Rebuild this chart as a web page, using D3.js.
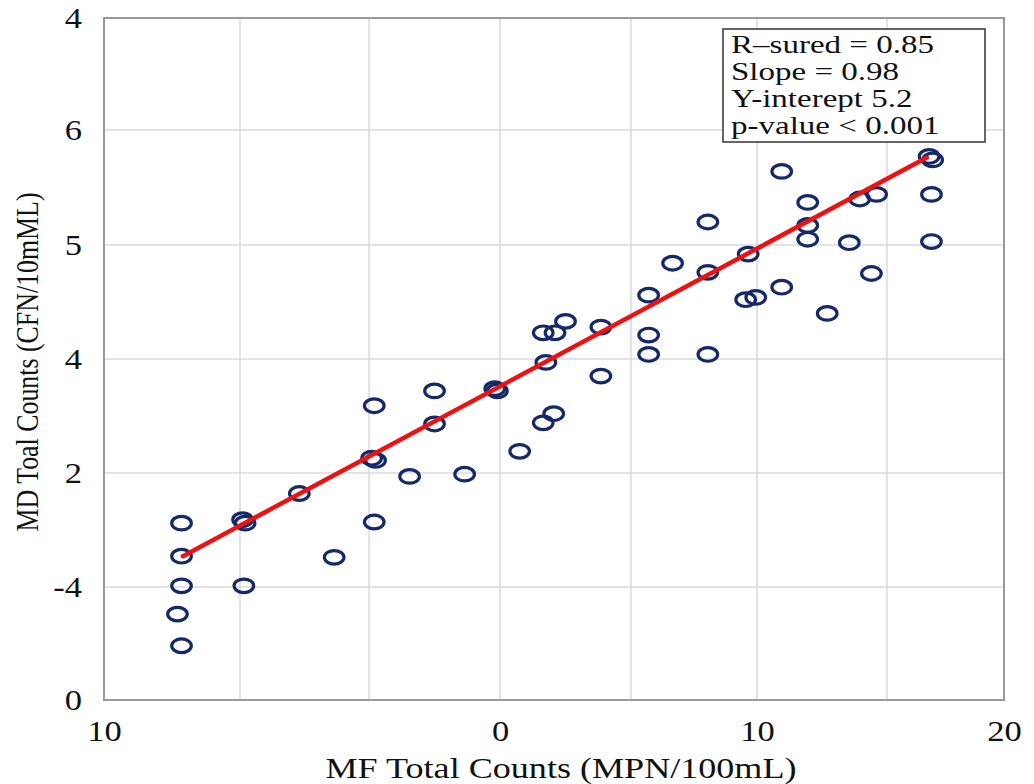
<!DOCTYPE html>
<html>
<head>
<meta charset="utf-8">
<script src="https://cdn.jsdelivr.net/npm/d3@7"></script>
<style>
  body { margin: 0; background: #fff; }
  text { font-family: "Liberation Serif", "Times New Roman", serif; fill: #111; }
</style>
</head>
<body>
<div id="chart"></div>
<script>
// grid positions (the source figure's axis labels are kept as printed)
const xGrid = [0, 1, 2, 3, 4, 5, 6, 7]
const yGrid = [0, 1, 2, 3, 4, 5, 6]
const xTickValues = [0, 3, 5, 7]
const xTickLabels = ["10", "0", "10", "20"]
const yTickLabels = ["0", "-4", "2", "4", "5", "6", "4"]

// points in grid units
const mfCounts = [0.57, 0.57, 0.57, 0.54, 0.57, 1.02, 1.04, 1.03, 1.46, 1.73,
  2.02, 2.05, 2.04, 2.04, 2.31, 2.50, 2.50, 2.73, 2.96, 2.98,
  3.15, 3.33, 3.41, 3.35, 3.33, 3.42, 3.50, 3.77, 3.77, 4.14,
  4.14, 4.14, 4.33, 4.61, 4.61, 4.61, 4.93, 4.91, 4.99, 5.19,
  5.19, 5.39, 5.39, 5.39, 5.54, 5.71, 5.79, 5.88, 5.92, 6.36,
  6.39, 6.38, 6.38]
const mdCounts = [1.56, 1.27, 1.01, 0.76, 0.48, 1.59, 1.56, 1.01, 1.82, 1.26,
  2.13, 2.11, 2.59, 1.57, 1.97, 2.72, 2.43, 1.99, 2.74, 2.72,
  2.19, 2.44, 2.52, 2.97, 3.23, 3.23, 3.33, 3.28, 2.85, 3.56,
  3.21, 3.04, 3.84, 4.20, 3.76, 3.04, 3.92, 3.52, 3.54, 4.64,
  3.63, 4.37, 4.17, 4.05, 3.40, 4.02, 4.40, 3.75, 4.44, 4.77,
  4.74, 4.44, 4.03]

// fitted line end points
const fitX = [0.58, 6.34]
const fitY = [1.27, 4.76]

const stats = ["R\u2013sured = 0.85", "Slope = 0.98", "Y-interept 5.2", "p-value < 0.001"]

const width = 1034
const height = 784

// the original figure is stretched sideways, so the text is too
function stretch(sel, k) {
  sel.each(function () {
    const w = this.getComputedTextLength()
    d3.select(this)
      .attr("textLength", w * k)
      .attr("lengthAdjust", "spacingAndGlyphs")
  })
}

const svg = d3.select("#chart").append("svg")
  .attr("width", width)
  .attr("height", height)

const x = d3.scaleLinear()
  .domain(xGrid)
  .range([104, 240, 369, 500, 631, 757, 887, 1004])
const y = d3.scaleLinear()
  .domain(yGrid)
  .range([700, 587, 473, 359, 245, 130, 18])

// gridlines
svg.append("g")
  .selectAll("line")
  .data(xGrid)
  .enter()
  .append("line")
  .attr("x1", d => x(d)).attr("x2", d => x(d))
  .attr("y1", y(0)).attr("y2", y(6))
  .attr("stroke", "#dadada")
  .attr("stroke-width", 1.5)
svg.append("g")
  .selectAll("line")
  .data(yGrid)
  .enter()
  .append("line")
  .attr("x1", x(0)).attr("x2", x(7))
  .attr("y1", d => y(d)).attr("y2", d => y(d))
  .attr("stroke", "#dadada")
  .attr("stroke-width", 1.5)

// plot frame
svg.append("rect")
  .attr("x", x(0)).attr("y", y(6))
  .attr("width", x(7) - x(0))
  .attr("height", y(0) - y(6))
  .attr("fill", "none")
  .attr("stroke", "#9a9a9a")
  .attr("stroke-width", 2)

// axes
const xAxis = svg.append("g")
  .attr("transform", "translate(0," + y(0) + ")")
  .call(d3.axisBottom(x)
    .tickValues(xTickValues)
    .tickFormat((d, i) => xTickLabels[i])
    .tickSize(0)
    .tickPadding(41))
xAxis.select(".domain").remove()
xAxis.selectAll("text")
  .attr("dy", 0)
  .style("font-size", "30px")
  .style("font-family", "'Liberation Serif', serif")
  .attr("fill", "#111")
  .call(stretch, 1.15)

const yAxis = svg.append("g")
  .attr("transform", "translate(" + x(0) + ",0)")
  .call(d3.axisLeft(y)
    .tickValues(yGrid)
    .tickFormat((d, i) => yTickLabels[i])
    .tickSize(0)
    .tickPadding(22))
yAxis.select(".domain").remove()
yAxis.selectAll("text")
  .style("font-size", "30px")
  .style("font-family", "'Liberation Serif', serif")
  .attr("fill", "#111")
  .call(stretch, 1.15)

// axis titles
svg.append("text")
  .attr("x", 561)
  .attr("y", 778)
  .attr("text-anchor", "middle")
  .style("font-size", "30px")
  .attr("textLength", 471)
  .attr("lengthAdjust", "spacingAndGlyphs")
  .text("MF Total Counts (MPN/100mL)")
svg.append("text")
  .attr("transform", "translate(38,362) rotate(-90) scale(1,1.15)")
  .attr("text-anchor", "middle")
  .style("font-size", "28px")
  .attr("textLength", 339)
  .attr("lengthAdjust", "spacingAndGlyphs")
  .text("MD Toal Counts (CFN/10mML)")

// points (drawn slightly wide, like the original)
svg.append("g")
  .selectAll("ellipse")
  .data(mfCounts)
  .enter()
  .append("ellipse")
  .attr("cx", d => x(d))
  .attr("cy", (d, i) => y(mdCounts[i]))
  .attr("rx", 9.8)
  .attr("ry", 6.8)
  .attr("fill", "none")
  .attr("stroke", "#15296a")
  .attr("stroke-width", 3.2)

// fitted line
svg.append("path")
  .datum(fitX.map((d, i) => [d, fitY[i]]))
  .attr("d", d3.line().x(d => x(d[0])).y(d => y(d[1])))
  .attr("fill", "none")
  .attr("stroke", "#ee1111")
  .attr("stroke-width", 4.5)
  .attr("stroke-linecap", "round")

// stats box
const box = svg.append("g")
box.append("rect")
  .attr("x", 723).attr("y", 29)
  .attr("width", 262).attr("height", 113)
  .attr("fill", "#fff")
  .attr("stroke", "#333")
  .attr("stroke-width", 1.5)
box.selectAll("text")
  .data(stats)
  .enter()
  .append("text")
  .attr("x", 731)
  .attr("y", (d, i) => 53 + i * 27)
  .style("font-size", "26px")
  .text(d => d)
  .call(stretch, 1.27)
</script>
</body>
</html>
